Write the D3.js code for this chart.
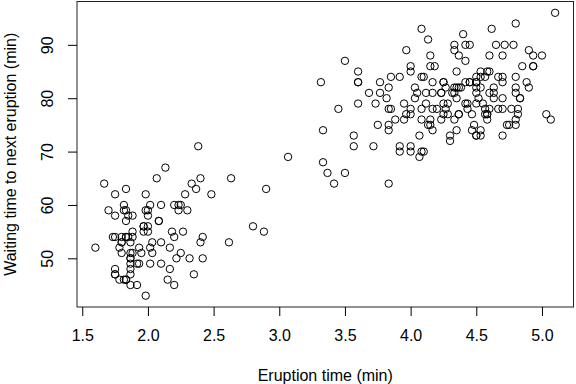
<!DOCTYPE html>
<html>
<head>
<meta charset="utf-8">
<script src="https://cdnjs.cloudflare.com/ajax/libs/d3/7.8.5/d3.min.js"></script>
<style>
  body { margin: 0; background: #fff; }
  text { font-family: "Liberation Sans", Arial, sans-serif; fill: #000; }
</style>
</head>
<body>
<div id="chart"></div>
<script>
// Old Faithful eruptions (min) and waiting times (min)
const eruptions = [3.600,1.800,3.333,2.283,4.533,2.883,4.700,3.600,1.950,4.350,1.833,3.917,4.200,1.750,4.700,2.167,1.750,4.800,1.600,4.250,
  1.800,1.750,3.450,3.067,4.533,3.600,1.967,4.083,3.850,4.433,4.300,4.467,3.367,4.033,3.833,2.017,1.867,4.833,1.833,4.783,
  4.350,1.883,4.567,1.750,4.533,3.317,3.833,2.100,4.633,2.000,4.800,4.716,1.833,4.833,1.733,4.883,3.717,1.667,4.567,4.317,
  2.233,4.500,1.750,4.800,1.817,4.400,4.167,4.700,2.067,4.700,4.033,1.967,4.500,4.000,1.983,5.067,2.017,4.567,3.883,3.600,
  4.133,4.333,4.100,2.633,4.067,4.933,3.950,4.517,2.167,4.000,2.200,4.333,1.867,4.817,1.833,4.300,4.667,3.750,1.867,4.900,
  2.483,4.367,2.100,4.500,4.050,1.867,4.700,1.783,4.850,3.683,4.733,2.300,4.900,4.417,1.700,4.633,2.317,4.600,1.817,4.417,
  2.617,4.067,4.250,1.967,4.600,3.767,1.917,4.500,2.267,4.650,1.867,4.167,2.800,4.333,1.833,4.383,1.883,4.933,2.033,3.733,
  4.233,2.233,4.533,4.817,4.333,1.983,4.633,2.017,5.100,1.800,5.033,4.000,2.400,4.600,3.567,4.000,4.500,4.083,1.800,3.967,
  2.200,4.150,2.000,3.833,3.500,4.583,2.367,5.000,1.933,4.617,1.917,2.083,4.583,3.333,4.167,4.333,4.500,2.417,4.000,4.167,
  1.883,4.583,4.250,3.767,2.033,4.433,4.083,1.833,4.417,2.183,4.800,1.833,4.800,4.100,3.966,4.233,3.500,4.366,2.250,4.667,
  2.100,4.350,4.133,1.867,4.600,1.783,4.367,3.850,1.933,4.500,2.383,4.700,1.867,3.833,3.417,4.233,2.400,4.800,2.000,4.150,
  1.867,4.267,1.750,4.483,4.000,4.117,4.083,4.267,3.917,4.550,4.083,2.417,4.183,2.217,4.450,1.883,1.850,4.283,3.950,2.333,
  4.150,2.350,4.933,2.900,4.583,3.833,2.083,4.367,2.133,4.350,2.200,4.450,3.567,4.500,4.150,3.817,3.917,4.450,2.000,4.283,
  4.767,4.533,1.850,4.250,1.983,2.250,4.750,4.117,2.150,4.417,1.817,4.467];
const waiting = [79,54,74,62,85,55,88,85,51,85,54,84,78,47,83,52,62,84,52,79,
  51,47,78,69,74,83,55,76,78,79,73,77,66,80,74,52,48,80,59,90,
  80,58,84,58,73,83,64,53,82,59,75,90,54,80,54,83,71,64,77,81,
  59,84,48,82,60,92,78,78,65,73,82,56,79,71,62,76,60,78,76,83,
  75,82,70,65,73,88,76,80,48,86,60,90,50,78,63,72,84,75,51,82,
  62,88,49,83,81,47,84,52,86,81,75,59,89,79,59,81,50,85,59,87,
  53,69,77,56,88,81,45,82,55,90,45,83,56,89,46,82,51,86,53,79,
  81,60,82,77,76,59,80,49,96,53,77,77,65,81,71,70,81,93,53,89,
  45,86,58,78,66,76,63,88,52,93,49,57,77,68,81,81,73,50,85,74,
  55,77,83,83,51,78,84,46,83,55,81,57,76,84,77,81,87,77,51,78,
  60,82,91,53,78,46,77,84,49,83,71,80,49,75,64,76,53,94,55,76,
  50,82,54,75,78,79,78,78,70,79,70,54,86,50,90,54,54,77,79,64,
  75,47,86,63,85,82,57,82,67,74,54,83,73,73,88,80,71,83,56,79,
  78,84,58,83,43,60,75,81,46,90,46,74];
const xTicks = [1.5, 2.0, 2.5, 3.0, 3.5, 4.0, 4.5, 5.0];
const yTicks = [50, 60, 70, 80, 90];

const width = 576, height = 384;
const plot = { left: 77, right: 573.5, top: 1.5, bottom: 307 };
const fontSize = "16px";

const points = eruptions.map((e, i) => ({ x: e, y: waiting[i] }));

// R-style 4% padding around the data range
function padded(values) {
  const [lo, hi] = d3.extent(values);
  const pad = (hi - lo) * 0.04;
  return [lo - pad, hi + pad];
}

const x = d3.scaleLinear().domain(padded(eruptions)).range([plot.left, plot.right]);
const y = d3.scaleLinear().domain(padded(waiting)).range([plot.bottom, plot.top]);

const svg = d3.select("#chart")
  .append("svg")
  .attr("width", width)
  .attr("height", height);

/** Points */
svg.append("g")
  .selectAll("circle")
  .data(points)
  .enter()
  .append("circle")
  .attr("cx", d => x(d.x))
  .attr("cy", d => y(d.y))
  .attr("r", 3.7)
  .attr("fill", "none")
  .attr("stroke", "#000")
  .attr("stroke-width", 1);

/** Box */
svg.append("rect")
  .attr("x", plot.left)
  .attr("y", plot.top)
  .attr("width", plot.right - plot.left)
  .attr("height", plot.bottom - plot.top)
  .attr("fill", "none")
  .attr("stroke", "#222")
  .attr("stroke-width", 1);

/** Axes */
const xAxis = d3.axisBottom(x)
  .tickValues(xTicks)
  .tickSize(9)
  .tickPadding(14)
  .tickFormat(d3.format(".1f"));

svg.append("g")
  .attr("transform", "translate(0," + plot.bottom + ")")
  .call(xAxis)
  .call(g => g.select("path.domain").remove())
  .call(g => g.selectAll("text").style("font-size", fontSize).attr("font-family", null));

const yAxis = d3.axisLeft(y)
  .tickValues(yTicks)
  .tickSize(9)
  .tickFormat(d3.format("d"));

const gy = svg.append("g")
  .attr("transform", "translate(" + plot.left + ",0)")
  .call(yAxis)
  .call(g => g.select("path.domain").remove());

gy.selectAll(".tick text")
  .attr("x", null).attr("dy", null)
  .attr("transform", "translate(-24,0) rotate(-90)")
  .attr("text-anchor", "middle")
  .attr("font-family", null)
  .style("font-size", fontSize);

svg.selectAll(".tick line").attr("stroke", "#000");

/** Axis titles */
svg.append("text")
  .attr("x", (plot.left + plot.right) / 2)
  .attr("y", 381)
  .attr("text-anchor", "middle")
  .style("font-size", fontSize)
  .text("Eruption time (min)");

svg.append("text")
  .attr("transform", "translate(16," + (plot.top + plot.bottom) / 2 + ") rotate(-90)")
  .attr("text-anchor", "middle")
  .style("font-size", fontSize)
  .text("Waiting time to next eruption (min)");
</script>
</body>
</html>
